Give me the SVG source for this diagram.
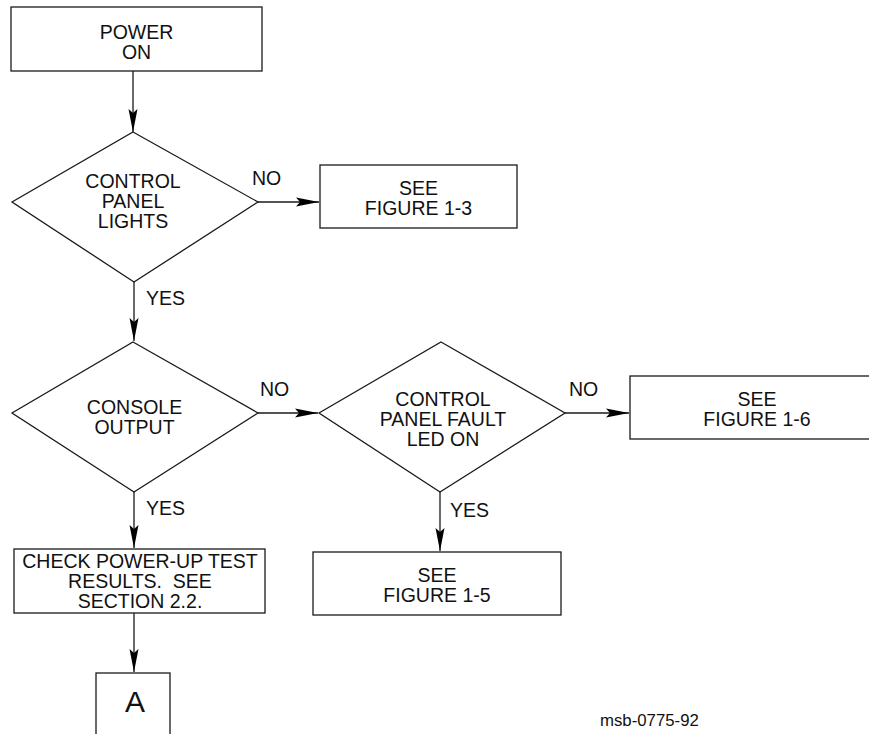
<svg xmlns="http://www.w3.org/2000/svg" width="869" height="734" viewBox="0 0 869 734">
<style>
.box{fill:none;stroke:#1a1a1a;stroke-width:1.3}
.ln{fill:none;stroke:#1a1a1a;stroke-width:1.3;marker-end:url(#ah)}
text{font-family:"Liberation Sans",Arial,sans-serif;font-size:19.5px;fill:#111;text-anchor:middle}
.l{text-anchor:start}
</style>
<defs>
<marker id="ah" markerUnits="userSpaceOnUse" markerWidth="26" markerHeight="12" viewBox="-24 -6 26 12" refX="0" refY="0" orient="auto">
<path d="M0,0 L-23,-4.5 L-19,0 L-23,4.5 Z" fill="#000"/>
</marker>
</defs>
<g id="connectors">
<line class="ln" x1="133" y1="71" x2="133" y2="132"/>
<line class="ln" x1="258" y1="202" x2="319" y2="202"/>
<line class="ln" x1="134" y1="282" x2="134" y2="341"/>
<line class="ln" x1="258" y1="413" x2="318" y2="413"/>
<line class="ln" x1="565" y1="413" x2="629" y2="413"/>
<line class="ln" x1="134" y1="492" x2="134" y2="548"/>
<line class="ln" x1="440" y1="492" x2="440" y2="551"/>
<line class="ln" x1="134" y1="613" x2="134" y2="672"/>
<text class="l" x="252" y="185">NO</text>
<text class="l" x="146" y="305">YES</text>
<text class="l" x="260" y="396">NO</text>
<text class="l" x="569" y="396">NO</text>
<text class="l" x="146" y="515">YES</text>
<text class="l" x="450" y="517">YES</text>
</g>
<g id="power-on">
<rect class="box" x="11" y="7" width="251" height="64"/>
<text x="136.5" y="39">POWER<tspan x="136.5" dy="20">ON</tspan></text>
</g>
<g id="control-panel-lights">
<polygon class="box" points="133,132 258,202 134,282 12,202"/>
<text x="133" y="188">CONTROL<tspan x="133" dy="20">PANEL</tspan><tspan x="133" dy="20">LIGHTS</tspan></text>
</g>
<g id="see-fig-1-3">
<rect class="box" x="320" y="165" width="197" height="63"/>
<text x="418.5" y="195">SEE<tspan x="418.5" dy="20">FIGURE 1-3</tspan></text>
</g>
<g id="console-output">
<polygon class="box" points="133,342 258,413 134,492 12,413"/>
<text x="134.5" y="414">CONSOLE<tspan x="134.5" dy="20">OUTPUT</tspan></text>
</g>
<g id="fault-led">
<polygon class="box" points="441,342 565,413 440,492 319,413"/>
<text x="443" y="406">CONTROL<tspan x="443" dy="20">PANEL FAULT</tspan><tspan x="443" dy="20">LED ON</tspan></text>
</g>
<g id="see-fig-1-6">
<rect class="box" x="630" y="376" width="254" height="63"/>
<text x="757" y="406">SEE<tspan x="757" dy="20">FIGURE 1-6</tspan></text>
</g>
<g id="see-fig-1-5">
<rect class="box" x="313" y="552" width="248" height="63"/>
<text x="437" y="582">SEE<tspan x="437" dy="20">FIGURE 1-5</tspan></text>
</g>
<g id="check-power-up">
<rect class="box" x="14" y="549" width="251" height="64"/>
<text x="140" y="568" xml:space="preserve">CHECK POWER-UP TEST<tspan x="140" dy="20">RESULTS.  SEE</tspan><tspan x="140" dy="20">SECTION 2.2.</tspan></text>
</g>
<g id="connector-a">
<rect class="box" x="96" y="673" width="74" height="80"/>
<text x="135" y="712" style="font-size:30px">A</text>
</g>
<text class="l" x="600" y="726" style="font-size:16.8px">msb-0775-92</text>
</svg>
